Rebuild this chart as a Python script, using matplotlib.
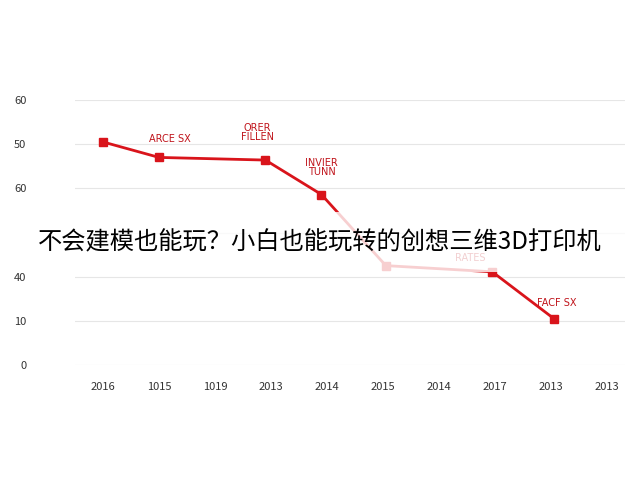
import matplotlib.pyplot as plt
from matplotlib.patches import Rectangle

plt.rcParams['font.family'] = ['Noto Sans CJK SC', 'DejaVu Sans']

# data (y in grid units, one unit per gridline)
x_labels = ['2016', '1015', '1019', '2013', '2014', '2015', '2014', '2017', '2013', '2013']
y_ticks = [0, 1, 2, 3, 4, 5, 6]
y_labels = ['0', '10', '40', '', '60', '50', '60']
pt_x = [0, 1, 2.9, 3.9, 5.05, 6.95, 8.05]
pt_y = [5.05, 4.7, 4.64, 3.86, 2.25, 2.11, 1.05]
notes = [('ARCE SX', 1.2, 5.0), ('ORER\nFILLEN', 2.75, 5.05), ('INVIER\nTUNN', 3.9, 4.25),
         ('RATES', 6.55, 2.3), ('FACF SX', 8.1, 1.3)]

fig = plt.figure(figsize=(6.4, 4.8), dpi=100)
ax = fig.add_axes([75 / 640, 115 / 480, 550 / 640, 265 / 480])
ax.set_xlim(-0.5, 9.32)
ax.set_ylim(0, 6)

ax.plot(pt_x, pt_y, color='#d9141b', lw=2, zorder=3)
ax.plot(pt_x, pt_y, 's', color='#d9141b', ms=6, zorder=4)
for t, x, y in notes:
    ax.text(x, y, t, color='#c0141b', fontsize=7, ha='center', va='bottom',
            family='DejaVu Sans', linespacing=0.9)

ax.set_yticks(y_ticks)
ax.set_yticklabels(y_labels)
ax.set_xticks(range(len(x_labels)))
ax.set_xticklabels(x_labels)
ax.tick_params(length=0, labelsize=8, colors='#333333', pad=12)
ax.tick_params(axis='y', pad=35)
ax.grid(axis='y', color='#e6e6e6', lw=0.8)
for s in ax.spines.values():
    s.set_visible(False)

# white caption banner
fig.patches.append(Rectangle((0, 1 - 272 / 480), 1, 60 / 480, transform=fig.transFigure,
                             facecolor='white', alpha=0.8, edgecolor='none', zorder=10))
fig.text(0.5, 1 - 242 / 480, '不会建模也能玩？小白也能玩转的创想三维3D打印机',
         ha='center', va='center', fontsize=17.5, color='black', zorder=11)

fig.savefig('out.png', dpi=100, facecolor='white')
